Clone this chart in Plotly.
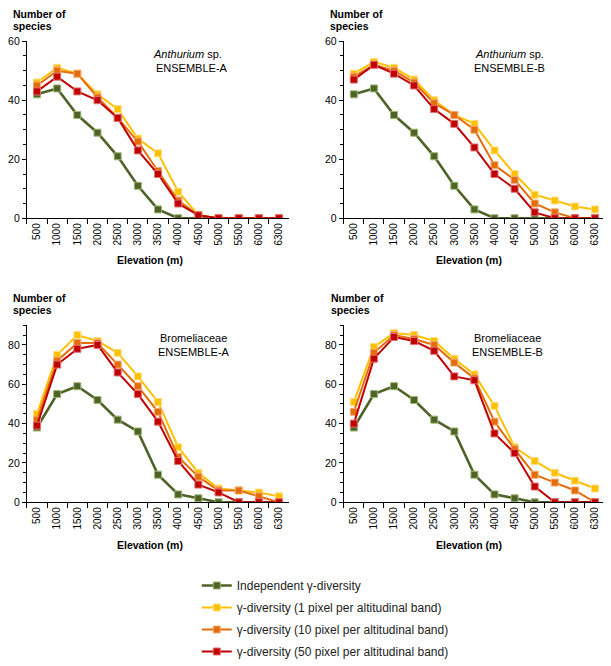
import plotly.graph_objects as go

elevation = ["500", "1000", "1500", "2000", "2500", "3000", "3500", "4000",
             "4500", "5000", "5500", "6000", "6300"]

series_names = [
    "Independent γ-diversity",
    "γ-diversity (1 pixel per altitudinal band)",
    "γ-diversity (10 pixel per altitudinal band)",
    "γ-diversity (50 pixel per altitudinal band)",
]

# Anthurium sp. ENSEMBLE-A
anth_a_indep = [42, 44, 35, 29, 21, 11, 3, 0, 0, 0, 0, 0, 0]
anth_a_1px = [46, 51, 49, 42, 37, 27, 22, 9, 1, 0, 0, 0, 0]
anth_a_10px = [45, 50, 49, 41, 34, 26, 16, 6, 1, 0, 0, 0, 0]
anth_a_50px = [43, 48, 43, 40, 34, 23, 15, 5, 1, 0, 0, 0, 0]

# Anthurium sp. ENSEMBLE-B
anth_b_indep = [42, 44, 35, 29, 21, 11, 3, 0, 0, 0, 0, 0, 0]
anth_b_1px = [49, 53, 51, 47, 40, 35, 32, 23, 15, 8, 6, 4, 3]
anth_b_10px = [48, 52, 50, 46, 39, 35, 30, 18, 13, 5, 2, 0, 0]
anth_b_50px = [47, 52, 49, 45, 37, 32, 24, 15, 10, 2, 0, 0, 0]

# Bromeliaceae ENSEMBLE-A
brom_a_indep = [38, 55, 59, 52, 42, 36, 14, 4, 2, 0, 0, 0, 0]
brom_a_1px = [45, 75, 85, 82, 76, 64, 51, 28, 15, 7, 6, 5, 3]
brom_a_10px = [42, 72, 81, 81, 70, 59, 46, 23, 13, 6, 6, 3, 0]
brom_a_50px = [39, 70, 78, 80, 66, 55, 41, 21, 9, 5, 0, 0, 0]

# Bromeliaceae ENSEMBLE-B
brom_b_indep = [38, 55, 59, 52, 42, 36, 14, 4, 2, 0, 0, 0, 0]
brom_b_1px = [51, 79, 86, 85, 82, 73, 65, 49, 28, 21, 15, 11, 7]
brom_b_10px = [46, 76, 85, 83, 80, 71, 63, 41, 27, 14, 10, 6, 0]
brom_b_50px = [40, 73, 84, 82, 77, 64, 62, 35, 25, 8, 0, 0, 0]

panels = [
    ("x", "y", [anth_a_indep, anth_a_1px, anth_a_10px, anth_a_50px]),
    ("x2", "y2", [anth_b_indep, anth_b_1px, anth_b_10px, anth_b_50px]),
    ("x3", "y3", [brom_a_indep, brom_a_1px, brom_a_10px, brom_a_50px]),
    ("x4", "y4", [brom_b_indep, brom_b_1px, brom_b_10px, brom_b_50px]),
]

colors = ["#4F6228", "#FFC000", "#E46C0A", "#C00000"]
edge_colors = ["#9BB870", "#FFE08A", "#F4AE78", "#E07070"]
widths = [2.6, 2, 2, 2]

# page body has an 8px margin, so the figure is sized to fit inside it
OFF = 8
W, H = 611 - OFF, 666 - OFF


def px_x(p):
    return (p - OFF) / W


def px_y(p):
    return 1 - (p - OFF) / H


fig = go.Figure()
for pi, (xa, ya, data) in enumerate(panels):
    for si, vals in enumerate(data):
        fig.add_trace(go.Scatter(
            x=elevation, y=vals, xaxis=xa, yaxis=ya,
            mode="lines+markers",
            name=series_names[si],
            legendgroup="g%d" % si,
            showlegend=(pi == 0),
            line=dict(color=colors[si], width=widths[si]),
            marker=dict(symbol="square", size=7, color=colors[si],
                        line=dict(color=edge_colors[si], width=1)),
        ))

font_family = "Liberation Sans, Arial, sans-serif"

xdom_left = [px_x(23), px_x(287)]
xdom_right = [px_x(342), px_x(605)]
ydom_top = [px_y(218), px_y(36)]
ydom_bot = [px_y(510), px_y(328)]

xcommon = dict(
    type="category", categoryorder="array", categoryarray=elevation,
    range=[-0.5, 12.5], tickangle=-90, tickson="boundaries",
    ticks="outside", ticklen=5, tickcolor="#000", showline=True,
    linecolor="#000", linewidth=1, showgrid=False, zeroline=False,
    tickfont=dict(family=font_family, size=10, color="#000"),
)
ycommon = dict(
    ticks="outside", ticklen=4, tickcolor="#000", showline=True,
    linecolor="#000", linewidth=1, showgrid=False, zeroline=False,
    tickfont=dict(family=font_family, size=10.5, color="#000"),
    minor=dict(ticks="outside", ticklen=3, tickcolor="#000", showgrid=False),
)

fig.update_layout(
    width=W, height=H,
    margin=dict(l=0, r=0, t=0, b=0),
    paper_bgcolor="white", plot_bgcolor="white",
    font=dict(family=font_family, size=11, color="#000"),
    xaxis=dict(domain=xdom_left, anchor="y", **xcommon),
    xaxis2=dict(domain=xdom_right, anchor="y2", **xcommon),
    xaxis3=dict(domain=xdom_left, anchor="y3", **xcommon),
    xaxis4=dict(domain=xdom_right, anchor="y4", **xcommon),
    yaxis=dict(domain=ydom_top, anchor="x", range=[0, 60], dtick=20,
               **ycommon),
    yaxis2=dict(domain=ydom_top, anchor="x2", range=[0, 60], dtick=20,
                **ycommon),
    yaxis3=dict(domain=ydom_bot, anchor="x3", range=[0, 90], dtick=20,
                **ycommon),
    yaxis4=dict(domain=ydom_bot, anchor="x4", range=[0, 90], dtick=20,
                **ycommon),
    showlegend=True,
    legend=dict(
        x=px_x(194), y=px_y(581), xanchor="left", yanchor="top",
        font=dict(family=font_family, size=12, color="#222"),
        bgcolor="rgba(0,0,0,0)", tracegroupgap=3,
        itemwidth=30,
    ),
)

annotations = []


def add_text(x, y, text, size=10, bold=False, xanchor="center"):
    if bold:
        text = "<b>%s</b>" % text
    annotations.append(dict(
        x=px_x(x), y=px_y(y), xref="paper", yref="paper", text=text,
        showarrow=False, xanchor=xanchor, yanchor="middle",
        font=dict(family=font_family, size=size, color="#000"),
    ))


# y-axis titles
for (x, y1) in [(7, 8), (326, 8), (7, 300), (327, 300)]:
    add_text(x, y1, "Number of", size=10.5, bold=True, xanchor="left")
    add_text(x, y1 + 12, "species", size=10.5, bold=True, xanchor="left")

# x-axis titles
for (x, y) in [(147, 261), (468, 261), (147, 554), (468, 554)]:
    add_text(x, y, "Elevation (m)", size=10.5, bold=True)

# panel labels
add_text(185, 49, "<i>Anthurium</i> sp.", size=11)
add_text(189, 64, "ENSEMBLE-A", size=11)
add_text(509, 49, "<i>Anthurium</i> sp.", size=11)
add_text(509, 64, "ENSEMBLE-B", size=11)
add_text(191, 341, "Bromeliaceae", size=11)
add_text(191, 355, "ENSEMBLE-A", size=11)
add_text(507, 341, "Bromeliaceae", size=11)
add_text(507, 355, "ENSEMBLE-B", size=11)

fig.update_layout(annotations=annotations)

fig.write_html("out.html")
